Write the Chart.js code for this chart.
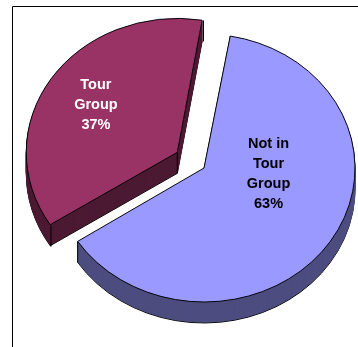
<!DOCTYPE html>
<html>
<head>
<meta charset="utf-8">
<script src="https://cdn.jsdelivr.net/npm/chart.js@4.4.1/dist/chart.umd.min.js"></script>
<style>
  html, body { margin: 0; padding: 0; background: #fff; }
  #wrap { position: relative; width: 358px; height: 347px; }
</style>
</head>
<body>
<div id="wrap"><canvas id="pie"></canvas></div>
<script>
// data
const categories = ['Not in Tour Group', 'Tour Group'];
const shares = [63, 37];
const explode = [0, 128];
const labelLines = [['Not in', 'Tour', 'Group'], ['Tour', 'Group']];

// look
const topColors = ['#9999ff', '#993366'];
const sideColors = ['#4d4d80', '#4d1a33'];
const textColors = ['#000000', '#ffffff'];
const labelAnchor = [[-27, 0.43], [0, 0.685]]; // [angle shift deg, radius fraction]
const TILT = 134 / 151;
const DEPTH = 21;

function tilt(ctx, arc) {
  ctx.translate(arc.x, arc.y);
  ctx.scale(1, TILT);
  ctx.translate(-arc.x, -arc.y);
}

function apexOf(arc) {
  const mid = (arc.startAngle + arc.endAngle) / 2;
  const off = (arc.options.offset || 0) / 4;
  return { x: arc.x + Math.cos(mid) * off, y: arc.y + Math.sin(mid) * off, mid: mid };
}

function toScreen(arc, x, y) {
  return { x: x, y: arc.y + (y - arc.y) * TILT };
}

const pie3d = {
  id: 'pie3d',

  beforeDraw: function (chart) {
    const ctx = chart.ctx;
    ctx.save();
    ctx.strokeStyle = '#000';
    ctx.lineWidth = 1;
    ctx.beginPath();
    ctx.moveTo(12.5, chart.height);
    ctx.lineTo(12.5, 6.5);
    ctx.lineTo(chart.width, 6.5);
    ctx.stroke();
    ctx.restore();
  },

  // the exploded slice gets a slightly bigger radius from Chart.js, take it back
  afterDatasetsUpdate: function (chart) {
    chart.getDatasetMeta(0).data.forEach(function (arc) {
      const off = (arc.options.offset || 0) / 4;
      const fix = 1 - Math.sin(Math.min(Math.PI, arc.circumference));
      arc.outerRadius -= off * fix;
    });
  },

  beforeDatasetsDraw: function (chart) {
    const ctx = chart.ctx;
    const arcs = chart.getDatasetMeta(0).data;
    ctx.save();
    tilt(ctx, arcs[0]);

    // side walls: stack darker copies downwards
    for (let d = DEPTH; d >= 1; d--) {
      ctx.save();
      ctx.translate(0, d / TILT);
      arcs.forEach(function (arc, i) {
        const o = arc.options;
        arc.options = Object.assign({}, o, {
          backgroundColor: sideColors[i],
          borderColor: d === DEPTH ? '#000' : sideColors[i],
          borderWidth: 1,
        });
        arc.draw(ctx);
        arc.options = o;
      });
      ctx.restore();
    }

    // vertical edges at the slice corners (hidden ones get covered by the top faces)
    ctx.save();
    ctx.setTransform(1, 0, 0, 1, 0, 0);
    ctx.strokeStyle = '#000';
    ctx.lineWidth = 1;
    arcs.forEach(function (arc) {
      const a = apexOf(arc);
      const r = arc.outerRadius + ((arc.options.offset || 0) / 4) * (1 - Math.sin(Math.min(Math.PI, arc.circumference)));
      const pts = [
        toScreen(arc, a.x, a.y),
        toScreen(arc, a.x + Math.cos(arc.startAngle) * r, a.y + Math.sin(arc.startAngle) * r),
        toScreen(arc, a.x + Math.cos(arc.endAngle) * r, a.y + Math.sin(arc.endAngle) * r),
      ];
      pts.forEach(function (p) {
        ctx.beginPath();
        ctx.moveTo(p.x, p.y);
        ctx.lineTo(p.x, p.y + DEPTH);
        ctx.stroke();
      });
    });
    ctx.restore();
  },

  afterDatasetsDraw: function (chart) {
    const ctx = chart.ctx;
    ctx.restore();

    const arcs = chart.getDatasetMeta(0).data;
    ctx.save();
    ctx.font = 'bold 14.5px "Liberation Sans", Arial, sans-serif';
    ctx.textAlign = 'center';
    ctx.textBaseline = 'middle';
    arcs.forEach(function (arc, i) {
      const a = apexOf(arc);
      const ang = a.mid + labelAnchor[i][0] * Math.PI / 180;
      const rr = arc.outerRadius * labelAnchor[i][1];
      const p = toScreen(arc, a.x + Math.cos(ang) * rr, a.y + Math.sin(ang) * rr);
      const lines = labelLines[i].concat([shares[i] + '%']);
      const lh = 20;
      const y0 = p.y - (lines.length - 1) * lh / 2;
      ctx.fillStyle = textColors[i];
      lines.forEach(function (t, j) {
        ctx.fillText(t, p.x, y0 + j * lh);
      });
    });
    ctx.restore();
  }
};

new Chart(document.getElementById('pie'), {
  type: 'pie',
  data: {
    labels: categories,
    datasets: [{
      data: shares,
      backgroundColor: topColors,
      borderColor: '#000',
      borderWidth: 1,
      offset: explode,
      radius: 151,
      clip: false,
    }]
  },
  options: {
    responsive: true,
    maintainAspectRatio: false,
    animation: false,
    events: [],
    rotation: 10,
    layout: { padding: { left: 50, right: 0, top: 0, bottom: 11 } },
    plugins: {
      legend: { display: false },
      tooltip: { enabled: false },
    },
  },
  plugins: [pie3d],
});
</script>
</body>
</html>
